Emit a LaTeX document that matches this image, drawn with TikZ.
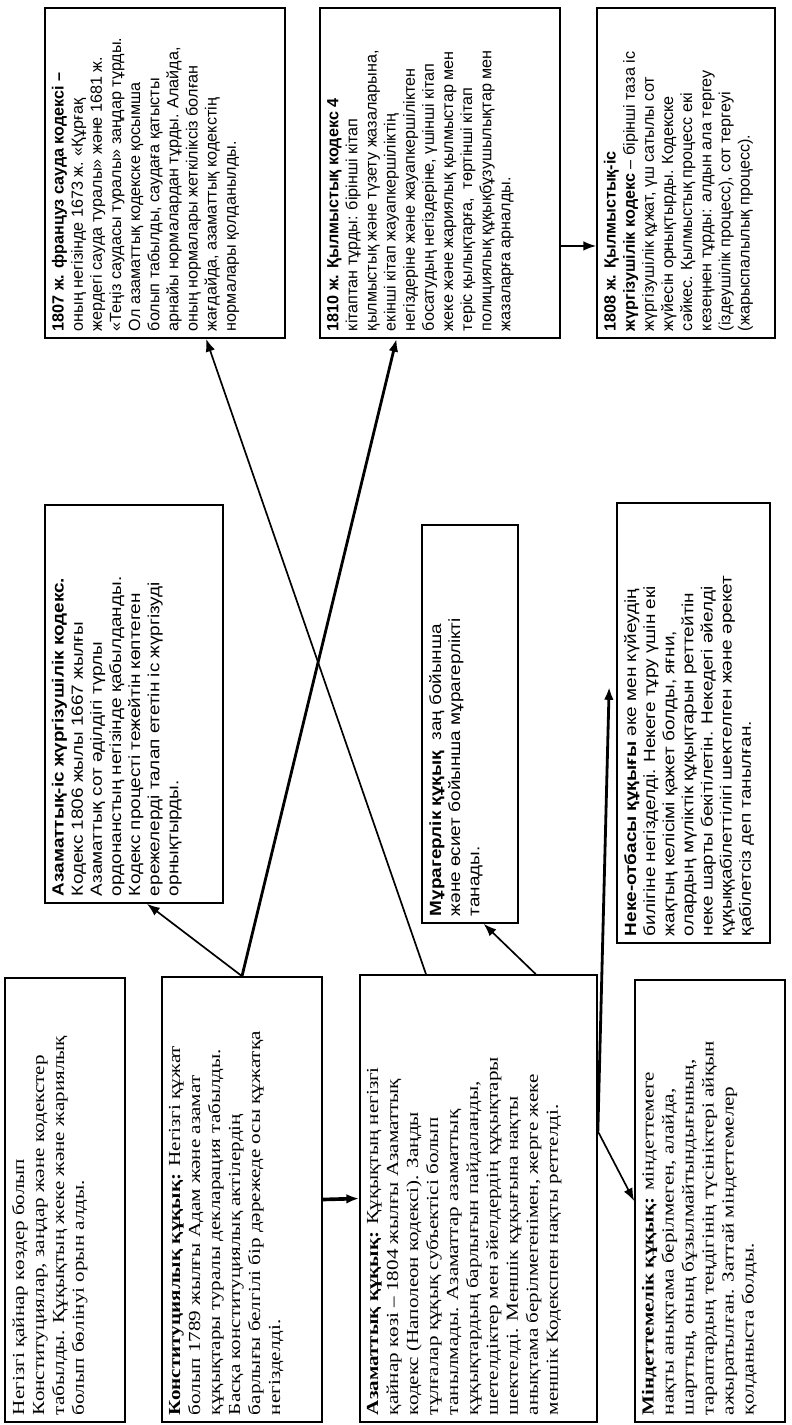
\documentclass[tikz,border=0pt]{standalone}
\usepackage{fontspec}
\usepackage{graphicx}
\usepackage{tikz}
\usetikzlibrary{calc,arrows.meta}

\newfontfamily\serifwide{Liberation Serif}[FakeStretch=1.25]
\newfontfamily\sansnarrow{Liberation Sans}
\newfontfamily\sanswide{Liberation Sans}[FakeStretch=1.17]
\newlength\px
\setlength\px{0.025cm}
% text that reads upwards, in a block #1 long and #2 thick (px)
\newcommand{\uptext}[3]{\rotatebox{90}{\parbox[c][#2\px][t]{#1\px}{\raggedright #3}}}
\newcommand{\sertext}{\serifwide\fontsize{12}{14.2}\selectfont}
\newcommand{\santext}{\sansnarrow\fontsize{11.5}{13.6}\selectfont}
\newcommand{\midtext}{\sanswide\fontsize{11.5}{13.6}\selectfont}

\tikzset{
  lawbox/.style={draw, line width=1.2pt, inner sep=7\px, fill=white},
  link/.style={line width=1.2pt, ->},
  boldlink/.style={line width=2pt, ->},
}

\begin{document}
\begin{tikzpicture}[x=0.025cm, y=-0.025cm, >={Latex[length=3.2mm,width=2.4mm]}]
      \useasboundingbox (0,0) rectangle (791,1425);

      % Bottom row
      \node[lawbox] (A) at (65,1200) {\uptext{430}{106}{\sertext
        Негізгі қайнар көздер болып\\
        Конституциялар, заңдар және кодекстер\\
        табылды. Құқықтың жеке және жариялық\\
        болып бөлінуі орын алды.}};

      \node[lawbox] (B) at (242,1199.5) {\uptext{431}{146}{\sertext
        \textbf{Конституциялық құқық:} Негізгі құжат\\
        болып 1789 жылғы Адам және азамат\\
        құқықтары туралы декларация табылды.\\
        Басқа конституциялық актілердің\\
        барлығы белгілі бір дәрежеде осы құжатқа\\
        негізделді.}};

      \node[lawbox] (C) at (478.5,1198.5) {\uptext{433}{223}{\sertext
        \textbf{Азаматтық құқық:} Құқықтың негізгі\\
        қайнар көзі – 1804 жылғы Азаматтық\\
        кодекс (Наполеон кодексі). Заңды\\
        тұлғалар құқық субъектісі болып\\
        танылмады. Азаматтар азаматтық\\
        құқықтардың барлығын пайдаланды,\\
        шетелдіктер мен әйелдердің құқықтары\\
        шектелді. Меншік құқығына нақты\\
        анықтама берілмегенімен, жерге жеке\\
        меншік Кодекспен нақты реттелді.}};

      \node[lawbox] (D) at (710,1201) {\uptext{428}{136}{\sertext
        \textbf{Міндеттемелік құқық:} міндеттемеге\\
        нақты анықтама берілмеген, алайда,\\
        шарттың, оның бұзылмайтындығының,\\
        тараптардың теңдігінің түсініктері айқын\\
        ажыратылған. Заттай міндеттемелер\\
        қолданыста болды.}};

      % Middle row
      \node[lawbox] (E) at (134,704) {\uptext{384}{164}{\midtext
        \textbf{Азаматтық-іс жүргізушілік кодекс.}\\
        Кодекс 1806 жылы 1667 жылғы\\
        Азаматтық сот әділдігі түрлы\\
        ордонанстың негізінде қабылданды.\\
        Кодекс процесті тежейтін көптеген\\
        ережелерді талап ететін іс жүргізуді\\
        орнықтырды.}};

      \node[lawbox] (F) at (470,724) {\uptext{384}{82}{\midtext
        \textbf{Мұрагерлік құқық}\ \ заң бойынша\\
        және өсиет бойынша мұрагерлікті\\
        танады.}};

      \node[lawbox] (G) at (693.5,723) {\uptext{426}{139}{\midtext
        \textbf{Неке-отбасы құқығы} әке мен күйеудің\\
        билігіне негізделді. Некеге тұру үшін екі\\
        жақтың келісімі қажет болды, яғни,\\
        олардың мүліктік құқықтарын реттейтін\\
        неке шарты бекітілетін. Некедегі әйелді\\
        құқыққабілеттілігі шектелген және әрекет\\
        қабілетсіз деп танылған.}};

      % Top row
      \node[lawbox] (H) at (165,173) {\uptext{316}{226}{\santext
        \textbf{1807 ж. француз сауда кодексі –}\\
        оның негізінде 1673 ж. «Құрғақ\\
        жердегі сауда туралы» және 1681 ж.\\
        «Теңіз саудасы туралы» заңдар тұрды.\\
        Ол азаматтық кодекске қосымша\\
        болып табылды, саудаға қатысты\\
        арнайы нормалардан тұрды. Алайда,\\
        оның нормалары жеткіліксіз болған\\
        жағдайда, азаматтық кодекстің\\
        нормалары қолданылды.}};

      \node[lawbox] (I) at (440,173) {\uptext{316}{226}{\santext
        \textbf{1810 ж. Қылмыстық кодекс 4}\\
        кітаптан тұрды: бірінші кітап\\
        қылмыстық және түзету жазаларына,\\
        екінші кітап жауапкершіліктің\\
        негіздеріне және жауапкершіліктен\\
        босатудың негіздеріне, үшінші кітап\\
        жеке және жариялық қылмыстар мен\\
        теріс қылықтарға,\ \ төртінші кітап\\
        полициялық құқықбұзушылықтар мен\\
        жазаларға арналды.}};

      \node[lawbox] (J) at (686,173) {\uptext{316}{164}{\santext
        \textbf{1808 ж. Қылмыстық-іс}\\
        \textbf{жүргізушілік кодекс} – бірінші таза іс\\
        жүргізушілік құжат, үш сатылы сот\\
        жүйесін орнықтырды. Кодекске\\
        сәйкес. Қылмыстық процесс екі\\
        кезеңнен тұрды: алдын ала тергеу\\
        (іздеушілік процесс), сот тергеуі\\
        (жарыспалылық процесс).}};

      % Links from the constitution box
      \draw [link] (B.north) -- ([xshift=13\px]E.south);
      \draw [boldlink] (B.north) -- ($(I.south west)!0.32!(I.south east)$);

      % Links from the civil law box
      \draw [link] ($(C.north west)!0.28!(C.north east)$) -- ($(H.south west)!0.67!(H.south east)$);
      \draw [link] ($(C.north west)!0.74!(C.north east)$) -- ($(F.south west)!0.64!(F.south east)$);
      \draw [line width=2.6pt,->] (B.east) -- (C.west);

      \coordinate (split) at ($(C.north east)!0.35!(C.south east)$);
      \draw [boldlink] (split) -- ([xshift=-7\px,yshift=36\px]G.west);
      \draw [link] (split) -- (D.west);

      % Criminal codes
      \coordinate (ij) at ($(I.north east)!0.72!(I.south east)$);
      \draw [link] (ij) -- (ij -| J.west);
\end{tikzpicture}
\end{document}
